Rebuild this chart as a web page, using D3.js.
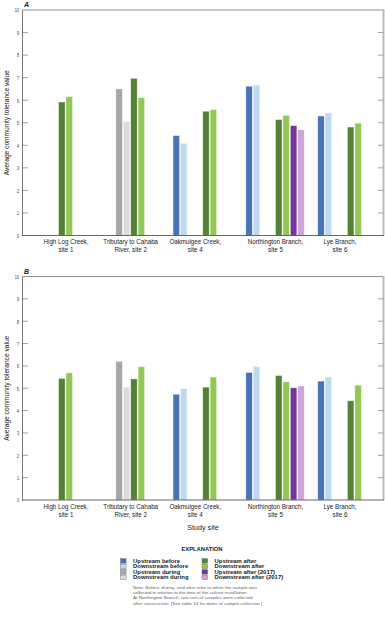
<!DOCTYPE html>
<html><head><meta charset="utf-8">
<script src="https://cdn.jsdelivr.net/npm/d3@7"></script>
<style>
html,body{margin:0;padding:0;background:#fff;}
svg{display:block;font-family:"Liberation Sans","Arial",sans-serif;}
</style></head>
<body>
<svg id="chart" width="385" height="624"></svg>
<script>
// ---- data ----
const sites = ["High Log Creek,|site 1", "Tributary to Cahaba|River, site 2", "Oakmulgee Creek,|site 4", "Northington Branch,|site 5", "Lye Branch,|site 6"];
const seriesNames = ["Upstream before", "Downstream before", "Upstream during", "Downstream during", "Upstream after", "Downstream after", "Upstream after (2017)", "Downstream after (2017)"];
const seriesColors = ["#4872b9", "#bdd8f1", "#a6a6a6", "#dcdcdc", "#548235", "#93c858", "#7334a0", "#cfa5d5"];
// values per site, in series order (null = no sample)
const panelA = [
  [null, null, null, null, 5.92, 6.16, null, null],
  [null, null, 6.50, 5.05, 6.97, 6.11, null, null],
  [4.43, 4.09, null, null, 5.51, 5.58, null, null],
  [6.62, 6.67, null, null, 5.14, 5.33, 4.87, 4.69],
  [5.30, 5.43, null, null, 4.81, 4.98, null, null]
];
const panelB = [
  [null, null, null, null, 5.44, 5.69, null, null],
  [null, null, 6.20, 5.05, 5.42, 5.96, null, null],
  [4.73, 4.98, null, null, 5.05, 5.50, null, null],
  [5.71, 5.98, null, null, 5.57, 5.29, 5.02, 5.10],
  [5.32, 5.50, null, null, 4.44, 5.14, null, null]
];
const yTicks = [0,1,2,3,4,5,6,7,8,9,10];
const noteLines = [
  "Note: Before, during, and after refer to when the sample was",
  "collected in relation to the time of the culvert installation.",
  "At Northington Branch, two sets of samples were collected",
  "after construction. [See table 14 for dates of sample collection.]"
];

// ---- helpers: condensed type via horizontal squeeze ----
const svg = d3.select("#chart");
function calib(size, weight, sample, target) {
  const t = svg.append("text").attr("font-size", size).attr("font-weight", weight).text(sample);
  const w = t.node().getComputedTextLength();
  t.remove();
  return target / w;
}
function squeeze(sel, k) {
  sel.each(function () {
    const w = this.getComputedTextLength();
    d3.select(this).attr("textLength", w * k).attr("lengthAdjust", "spacingAndGlyphs");
  });
}
const legSize = 4.8;
const kCat = calib(6.6, "normal", "Tributary to Cahaba", 54.7);
const kTick = calib(5.8, "normal", "10", 4.2);
const kLeg = calib(legSize, "bold", "Downstream during", 55.5);
const kNote = calib(4.4, "normal", noteLines[0], 124);
const kTitle = calib(6.8, "normal", "Average community tolerance value", 105);
const kStudy = calib(7.2, "normal", "Study site", 31.5);
const kExp = calib(6.2, "bold", "EXPLANATION", 41);

// ---- layout ----
const X0 = 22, X1 = 384;
const siteCenters = [66, 130.7, 195.3, 275.5, 340];
const slotW = 7.42, barW = 6.5;
const xSite = d3.scaleOrdinal().domain(sites).range(siteCenters);

function drawPanel(vals, top, bottom, letter) {
  const y = d3.scaleLinear().domain([0, 10]).range([bottom, top]);
  const g = svg.append("g");
  // frame
  g.append("line").attr("x1", X0).attr("x2", X1).attr("y1", top).attr("y2", top).attr("stroke", "#777").attr("stroke-width", 0.8);
  g.append("line").attr("x1", X1 - 0.5).attr("x2", X1 - 0.5).attr("y1", top - 0.5).attr("y2", bottom).attr("stroke", "#bbb").attr("stroke-width", 2);
  // ticks
  yTicks.forEach(t => {
    if (t === 0 || t === 10) return;
    g.append("line").attr("x1", X0).attr("x2", X0 + 6).attr("y1", y(t)).attr("y2", y(t)).attr("stroke", "#8a8a8a").attr("stroke-width", 0.8);
    g.append("line").attr("x1", X1 - 6).attr("x2", X1 - 1).attr("y1", y(t)).attr("y2", y(t)).attr("stroke", "#8a8a8a").attr("stroke-width", 0.8);
  });
  const ax = d3.axisLeft(y).tickValues(yTicks).tickSize(0).tickPadding(3);
  const axg = g.append("g").attr("transform", `translate(${X0},0)`).call(ax);
  axg.select(".domain").attr("stroke", "#555").attr("stroke-width", 0.8);
  axg.selectAll("text").attr("font-size", 5.8).attr("fill", "#333").attr("font-family", null).call(squeeze, kTick);
  // bars
  vals.forEach((row, si) => {
    const idx = row.map((v, i) => v === null ? -1 : i).filter(i => i >= 0);
    const first = d3.min(idx), last = d3.max(idx);
    const keys = d3.range(first, last + 1);
    const c = xSite(sites[si]);
    const xb = d3.scaleBand().domain(keys).range([c - keys.length * slotW / 2, c + keys.length * slotW / 2]).paddingInner(0);
    keys.forEach(k => {
      const v = row[k];
      if (v === null) return;
      g.append("rect")
        .attr("x", xb(k)).attr("width", barW)
        .attr("y", y(v)).attr("height", y(0) - y(v))
        .attr("fill", seriesColors[k])
        .attr("stroke", "rgba(255,255,255,0.55)").attr("stroke-width", 0.7);
    });
  });
  // bottom axis
  g.append("line").attr("x1", X0).attr("x2", X1).attr("y1", bottom).attr("y2", bottom).attr("stroke", "#555").attr("stroke-width", 0.9);
  // category labels
  sites.forEach(s => {
    const parts = s.split("|");
    parts.forEach((p, i) => {
      g.append("text").attr("x", xSite(s)).attr("y", bottom + 8.5 + i * 8).attr("text-anchor", "middle")
        .attr("font-size", 6.6).attr("fill", "#222").text(p).call(squeeze, kCat);
    });
  });
  // panel letter
  g.append("text").attr("x", X0 + 2).attr("y", top - 3).attr("font-size", 7).attr("font-weight", "bold").attr("font-style", "italic").attr("fill", "#222").text(letter);
  // y title
  g.append("text").attr("transform", `translate(8.5,${(top + bottom) / 2}) rotate(-90)`).attr("text-anchor", "middle")
    .attr("font-size", 6.8).attr("fill", "#222").text("Average community tolerance value").call(squeeze, kTitle);
}

drawPanel(panelA, 10, 235.5, "A");
drawPanel(panelB, 276.5, 500, "B");

svg.append("text").attr("x", 203).attr("y", 529.5).attr("text-anchor", "middle").attr("font-size", 7.2).attr("fill", "#222").text("Study site").call(squeeze, kStudy);

// legend
svg.append("text").attr("x", 202).attr("y", 551).attr("text-anchor", "middle").attr("font-size", 6.2).attr("font-weight", "bold").attr("fill", "#222").text("EXPLANATION").call(squeeze, kExp);
const legOrder = [[0,1,2,3],[4,5,6,7]];
const colX = [120.5, 202];
const rowY = d3.scalePoint().domain([0,1,2,3]).range([561, 577.5]);
legOrder.forEach((col, ci) => {
  col.forEach((k, ri) => {
    svg.append("rect").attr("x", colX[ci]).attr("y", rowY(ri) - 2.4).attr("width", 5.6).attr("height", 4.6)
      .attr("fill", seriesColors[k]).attr("stroke", "#666").attr("stroke-width", 0.4);
    svg.append("text").attr("x", colX[ci] + 12.5).attr("y", rowY(ri) + 1.8).attr("font-size", legSize).attr("font-weight", "bold").attr("fill", "#1a1a1a").text(seriesNames[k]).call(squeeze, kLeg);
  });
});
noteLines.forEach((l, i) => {
  svg.append("text").attr("x", 133).attr("y", 588.6 + i * 5.35).attr("font-size", 4.4).attr("fill", "#666").text(l).call(squeeze, kNote);
});
</script>
</body></html>
